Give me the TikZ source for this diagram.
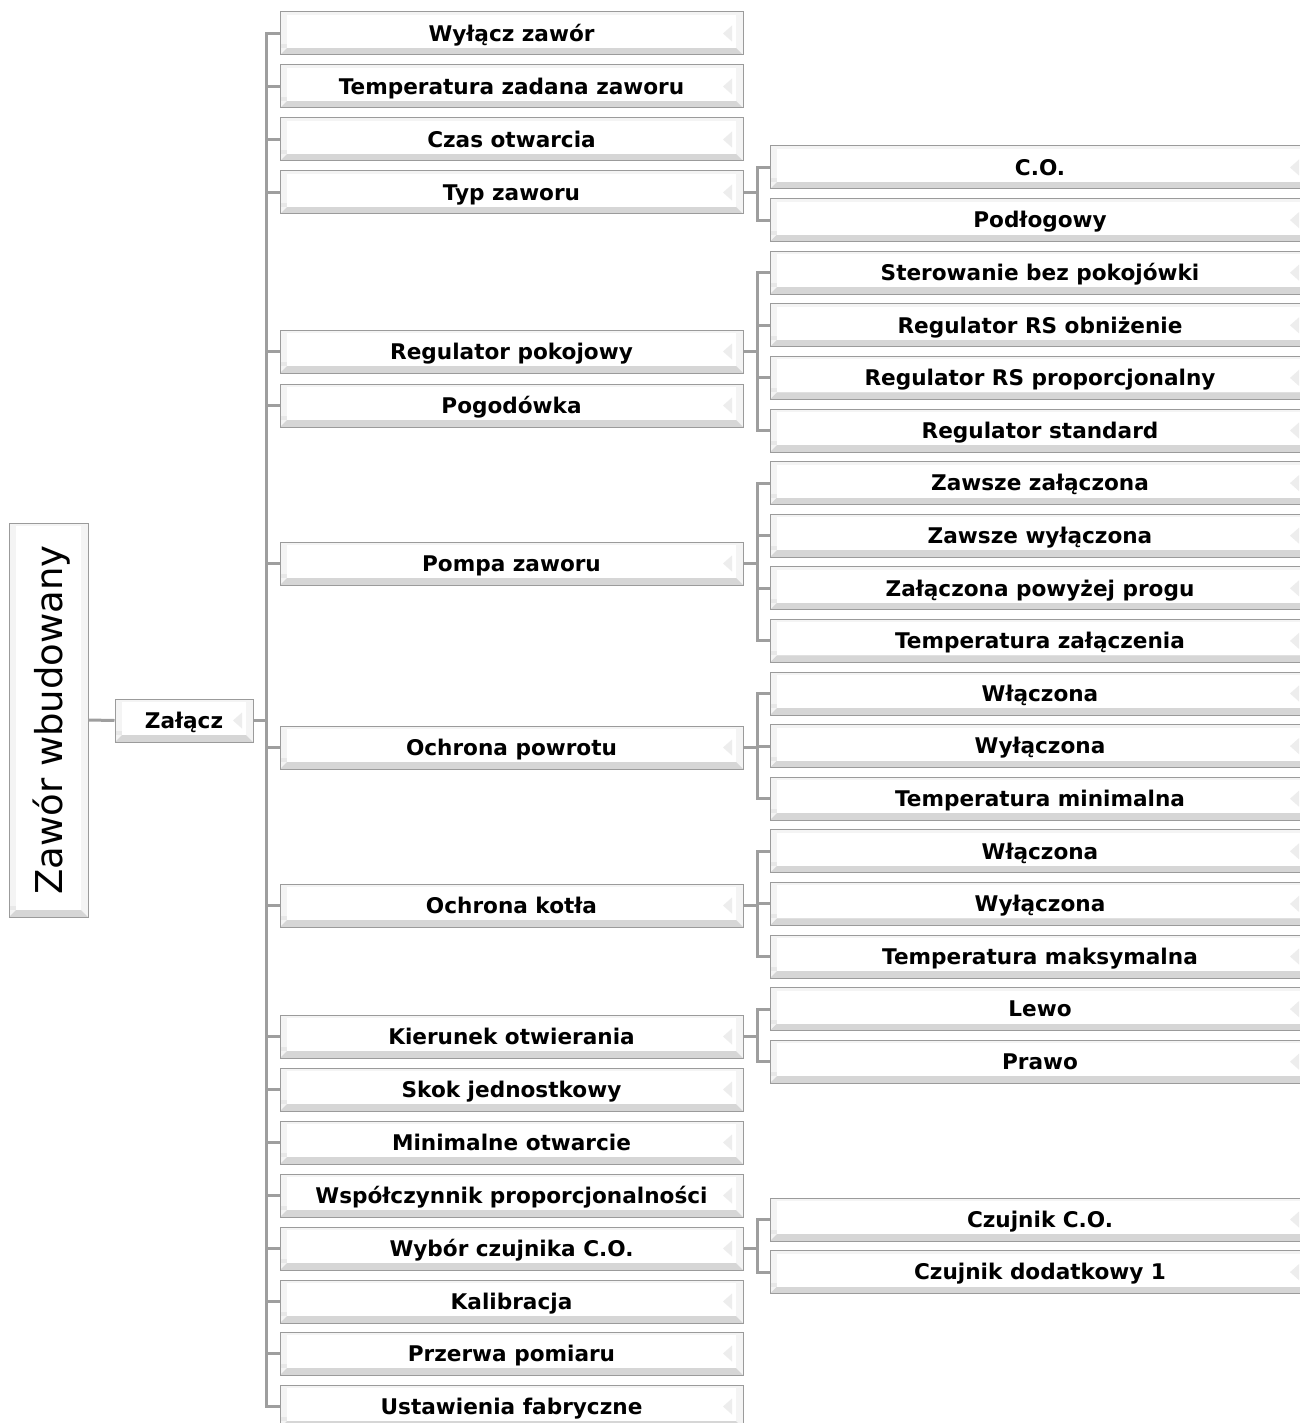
\documentclass[tikz,border=0pt]{standalone}
\usepackage{fontspec}
\setmainfont{DejaVu Sans}
\definecolor{linegray}{RGB}{158,158,158}
\definecolor{boxgray}{RGB}{155,155,155}
\tikzset{
  bevelbase/.code={},
  bevel/.style={path picture={
    \path (path picture bounding box.south west) coordinate (SW)
          (path picture bounding box.north east) coordinate (NE);
    \fill[gray!9] (SW) rectangle (NE);
    \fill[gray!32] (SW) -- (SW -| NE) -- ([xshift=-7pt,yshift=7pt]SW -| NE)
          -- ([xshift=7pt,yshift=7pt]SW) -- cycle;
    \fill[gray!18] ([yshift=7pt]SW) rectangle ([xshift=7pt,yshift=11pt]SW);
    \fill[white] ([xshift=7pt,yshift=7pt]SW) rectangle ([xshift=-7pt,yshift=-3pt]NE);
  }},
  bevelmark/.style={path picture={
    \path (path picture bounding box.south west) coordinate (SW)
          (path picture bounding box.north east) coordinate (NE);
    \fill[gray!9] (SW) rectangle (NE);
    \fill[gray!32] (SW) -- (SW -| NE) -- ([xshift=-7pt,yshift=7pt]SW -| NE)
          -- ([xshift=7pt,yshift=7pt]SW) -- cycle;
    \fill[gray!18] ([yshift=7pt]SW) rectangle ([xshift=7pt,yshift=11pt]SW);
    \fill[white] ([xshift=7pt,yshift=7pt]SW) rectangle ([xshift=-7pt,yshift=-3pt]NE);
    \fill[gray!14] ([xshift=-20pt]path picture bounding box.east)
          -- ([xshift=-11pt,yshift=8pt]path picture bounding box.east)
          -- ([xshift=-11pt,yshift=-8pt]path picture bounding box.east) -- cycle;
  }},
  box/.style={draw=boxgray, line width=1pt, minimum height=43pt, inner sep=0pt,
    font=\bfseries\fontsize{21.6}{22}\selectfont, text height=15.5pt, text depth=0pt, bevelmark},
  lvone/.style={box, minimum width=138pt},
  lvtwo/.style={box, minimum width=463pt},
  lvthree/.style={box, minimum width=540pt},
  rootbox/.style={draw=boxgray, line width=1pt, inner sep=0pt, minimum width=79pt,
    minimum height=394pt, font=\fontsize{37}{37}\selectfont, bevel},
  link/.style={draw=linegray, line width=3pt},
}
\begin{document}
\begin{tikzpicture}[x=1pt,y=-1pt]
\useasboundingbox (0,0) rectangle (1299,1423);

% root and first level
\node[rootbox] (root) at (48.5,720) {\rotatebox{90}{\smash{Zawór wbudowany}\rule{0pt}{27pt}}};
\node[lvone] (zal) at (184,720.5) {Załącz};

% second level
\node[lvtwo] (w1)  at (511.5,33.5)  {Wyłącz zawór};
\node[lvtwo] (w2)  at (511.5,86.5)  {Temperatura zadana zaworu};
\node[lvtwo] (w3)  at (511.5,139.5) {Czas otwarcia};
\node[lvtwo] (w4)  at (511.5,192.5) {Typ zaworu};
\node[lvtwo] (w5)  at (511.5,351.5) {Regulator pokojowy};
\node[lvtwo] (w6)  at (511.5,405.5) {Pogodówka};
\node[lvtwo] (w7)  at (511.5,563.5) {Pompa zaworu};
\node[lvtwo] (w8)  at (511.5,747.5) {Ochrona powrotu};
\node[lvtwo] (w9)  at (511.5,905.5) {Ochrona kotła};
\node[lvtwo] (w10) at (511.5,1036.5) {Kierunek otwierania};
\node[lvtwo] (w11) at (511.5,1089.5) {Skok jednostkowy};
\node[lvtwo] (w12) at (511.5,1142.5) {Minimalne otwarcie};
\node[lvtwo] (w13) at (511.5,1195.5) {Współczynnik proporcjonalności};
\node[lvtwo] (w14) at (511.5,1248.5) {Wybór czujnika C.O.};
\node[lvtwo] (w15) at (511.5,1301.5) {Kalibracja};
\node[lvtwo] (w16) at (511.5,1353.5) {Przerwa pomiaru};
\node[lvtwo] (w17) at (511.5,1406.5) {Ustawienia fabryczne};

% third level
\node[lvthree] (c1)  at (1040,167.5) {C.O.};
\node[lvthree] (c2)  at (1040,220.1) {Podłogowy};
\node[lvthree] (c3)  at (1040,272.7) {Sterowanie bez pokojówki};
\node[lvthree] (c4)  at (1040,325.3) {Regulator RS obniżenie};
\node[lvthree] (c5)  at (1040,377.9) {Regulator RS proporcjonalny};
\node[lvthree] (c6)  at (1040,430.5) {Regulator standard};
\node[lvthree] (c7)  at (1040,483.1) {Zawsze załączona};
\node[lvthree] (c8)  at (1040,535.7) {Zawsze wyłączona};
\node[lvthree] (c9)  at (1040,588.3) {Załączona powyżej progu};
\node[lvthree] (c10) at (1040,640.9) {Temperatura załączenia};
\node[lvthree] (c11) at (1040,693.5) {Włączona};
\node[lvthree] (c12) at (1040,746.1) {Wyłączona};
\node[lvthree] (c13) at (1040,798.7) {Temperatura minimalna};
\node[lvthree] (c14) at (1040,851.3) {Włączona};
\node[lvthree] (c15) at (1040,903.9) {Wyłączona};
\node[lvthree] (c16) at (1040,956.5) {Temperatura maksymalna};
\node[lvthree] (c17) at (1040,1009.1) {Lewo};
\node[lvthree] (c18) at (1040,1061.7) {Prawo};
\node[lvthree] (c19) at (1040,1219.5) {Czujnik C.O.};
\node[lvthree] (c20) at (1040,1272.1) {Czujnik dodatkowy 1};

% connectors
\draw[link] (root.east) -- (zal.west);
\draw[link] (zal.east) -- ++(13,0) coordinate (b0);
\foreach \n in {w1,w2,w3,w4,w5,w6,w7,w8,w9,w10,w11,w12,w13,w14,w15,w16,w17}
  \draw[link] (b0) |- (\n.west);

\draw[link] (w4.east) -- ++(13.5,0) coordinate (b4);
\foreach \n in {c1,c2} \draw[link] (b4) |- (\n.west);
\draw[link] (w5.east) -- ++(13.5,0) coordinate (b5);
\foreach \n in {c3,c4,c5,c6} \draw[link] (b5) |- (\n.west);
\draw[link] (w7.east) -- ++(13.5,0) coordinate (b7);
\foreach \n in {c7,c8,c9,c10} \draw[link] (b7) |- (\n.west);
\draw[link] (w8.east) -- ++(13.5,0) coordinate (b8);
\foreach \n in {c11,c12,c13} \draw[link] (b8) |- (\n.west);
\draw[link] (w9.east) -- ++(13.5,0) coordinate (b9);
\foreach \n in {c14,c15,c16} \draw[link] (b9) |- (\n.west);
\draw[link] (w10.east) -- ++(13.5,0) coordinate (b10);
\foreach \n in {c17,c18} \draw[link] (b10) |- (\n.west);
\draw[link] (w14.east) -- ++(13.5,0) coordinate (b14);
\foreach \n in {c19,c20} \draw[link] (b14) |- (\n.west);
\end{tikzpicture}
\end{document}
